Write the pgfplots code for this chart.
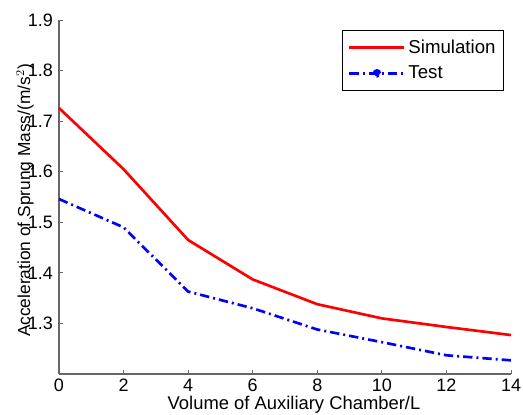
\documentclass[border=0pt]{standalone}
\usepackage{fontspec}
\setmainfont{Liberation Sans}
\usepackage{pgfplots}
\pgfplotsset{compat=1.18}
\begin{document}
\begin{tikzpicture}
\begin{axis}[
  scale only axis,
  width=339pt, height=265.5pt,
  xmin=0, xmax=14, ymin=1.2, ymax=1.9,
  xtick={0,2,...,14},
  ytick={1.3,1.4,...,1.9},
  yticklabels={1.3,1.4,1.5,1.6,1.7,1.8,1.9},
  axis lines=left,
  axis line style={-, draw=black!60, line width=0.8pt},
  tick style={draw=black!60, line width=0.6pt},
  tick align=inside,
  major tick length=3pt,
  /pgf/number format/assume math mode=true,
  ticklabel style={font=\fontsize{13.5}{15}\selectfont},
  yticklabel style={xshift=-1pt},
  xlabel={Volume of Auxiliary Chamber/L},
  ylabel={Acceleration of Sprung Mass/(m/s$^2$)},
  xlabel style={font=\fontsize{13.8}{15}\selectfont, at={(axis description cs:0.52,-0.088)}, anchor=center},
  ylabel style={font=\fontsize{13}{15}\selectfont, at={(axis description cs:-0.075,0.49)}, anchor=center},
  legend style={at={(axis description cs:0.9845,0.9718)}, anchor=north east,
    draw=black, line width=0.6pt, font=\fontsize{14}{16}\selectfont,
    inner xsep=4pt, inner ysep=5pt, row sep=4pt, cells={anchor=west}},
  legend image code/.code={\draw[#1] (0cm,0cm) -- (1.45cm,0cm);},
  clip=false,
]
\addplot[red, line width=2pt] coordinates {
  (0,1.726) (2,1.605) (4,1.465) (6,1.387) (8,1.338) (10,1.310) (12,1.293) (14,1.277)
};
\addlegendentry{Simulation}
\addplot[blue, line width=2pt, dash pattern=on 7pt off 3pt on 1.5pt off 3pt,
  legend image code/.code={\draw[blue, line width=2pt, dash pattern=on 7pt off 3pt on 1.5pt off 3pt] (0cm,0cm) -- (1.45cm,0cm); \fill[blue] (0.725cm,0cm) circle (2.2pt);}] coordinates {
  (0,1.546) (2,1.490) (4,1.363) (6,1.330) (8,1.288) (10,1.263) (12,1.237) (14,1.227)
};
\addlegendentry{Test}
\coordinate (bbll) at (axis description cs:-0.1305,-0.113);
\coordinate (bbur) at (axis description cs:1.0265,1.0565);
\end{axis}
\pgfresetboundingbox
\path[use as bounding box] (bbll) rectangle (bbur);
\end{tikzpicture}
\end{document}
